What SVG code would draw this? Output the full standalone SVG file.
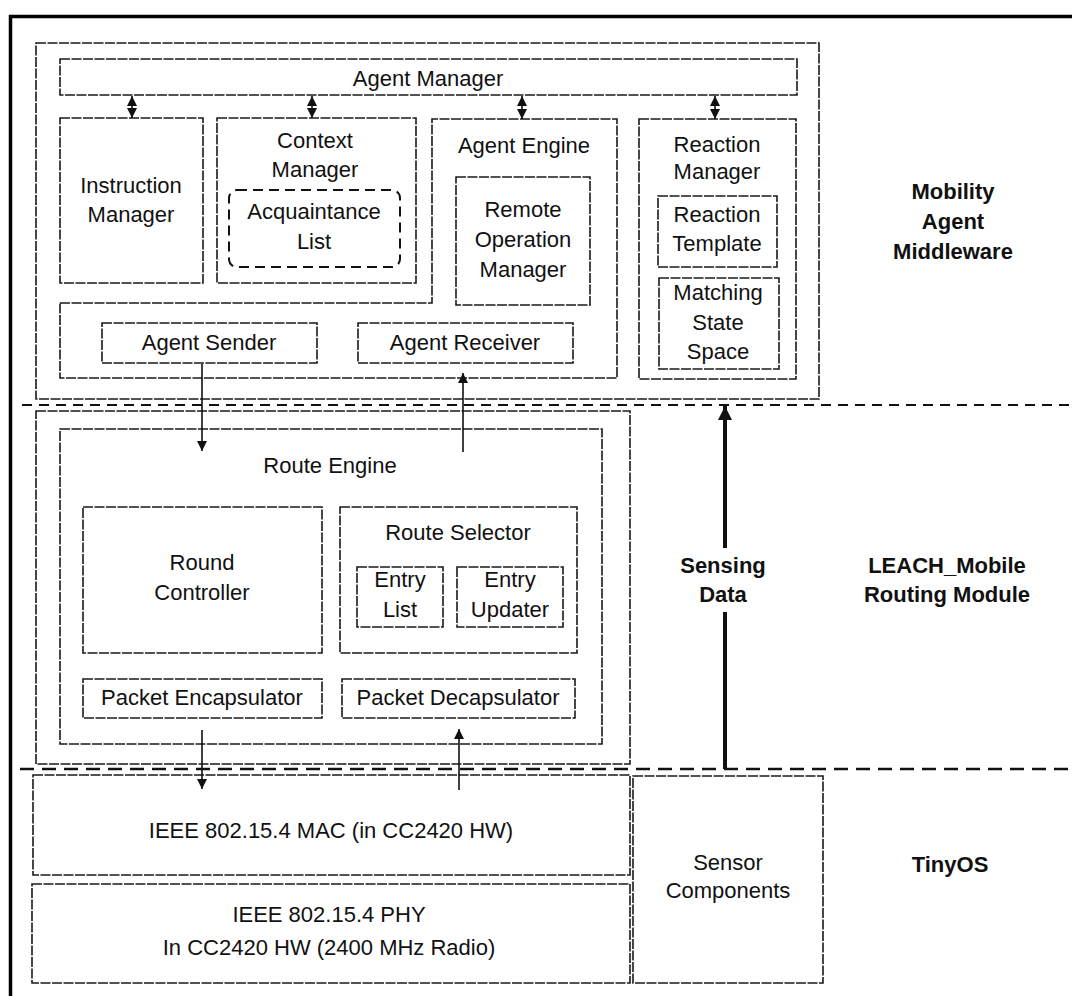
<svg xmlns="http://www.w3.org/2000/svg" width="1072" height="996" viewBox="0 0 1072 996">
<defs>
<style>
.box{fill:none;stroke:#1a1a1a;stroke-width:1.6;stroke-dasharray:10 1.5}
.t{font-family:"Liberation Sans",Arial,sans-serif;font-size:22px;fill:#111;text-anchor:middle}
.b{font-weight:bold}
.arr{stroke:#111;stroke-width:1.6;fill:none}
.dar{stroke:#111;stroke-width:1.6;fill:none;stroke-dasharray:3 2}
.sep{stroke:#111;fill:none}
</style>
<marker id="ah" viewBox="0 0 10 10" refX="10" refY="5" markerWidth="10" markerHeight="10" markerUnits="userSpaceOnUse" orient="auto-start-reverse">
<path d="M0,0 L10,5 L0,10 z" fill="#111"/>
</marker>
<marker id="ahb" viewBox="0 0 10 10" refX="10" refY="5" markerWidth="17" markerHeight="14" markerUnits="userSpaceOnUse" orient="auto-start-reverse">
<path d="M0,0 L10,5 L0,10 z" fill="#111"/>
</marker>
</defs>
<rect width="1072" height="996" fill="#fff"/>

<g id="frame">
<path d="M10.5,996 L10.5,16.5 L1072,16.5" fill="none" stroke="#000" stroke-width="3.5"/>
</g>

<g id="separators">
<line class="sep" x1="22" y1="405" x2="1072" y2="405" stroke-width="2" stroke-dasharray="10 7"/>
<line class="sep" x1="20" y1="769" x2="1072" y2="769" stroke-width="2.5" stroke-dasharray="14 8"/>
</g>

<g id="middleware">
<rect class="box" x="36" y="43" width="783" height="356"/>
</g>

<g id="agent-manager">
<rect class="box" x="60" y="59" width="737" height="36"/>
<text class="t" x="428" y="86">Agent Manager</text>
</g>

<g id="instruction-manager">
<rect class="box" x="60" y="118" width="143" height="165"/>
<text class="t" x="131" y="193">Instruction</text>
<text class="t" x="131" y="222">Manager</text>
</g>

<g id="context-manager">
<rect class="box" x="217" y="118" width="199" height="165"/>
<text class="t" x="315" y="148">Context</text>
<text class="t" x="315" y="177">Manager</text>
</g>

<g id="acquaintance-list">
<rect x="229" y="190" width="171" height="77" rx="8" fill="none" stroke="#111" stroke-width="2" stroke-dasharray="10 6"/>
<text class="t" x="314" y="219">Acquaintance</text>
<text class="t" x="314" y="249">List</text>
</g>

<g id="agent-engine">
<path class="box" d="M60,303 L432,303 L432,119 L617,119 L617,378 L60,378 Z"/>
<text class="t" x="524" y="153">Agent Engine</text>
</g>

<g id="remote-operation-manager">
<rect class="box" x="456" y="177" width="134" height="128"/>
<text class="t" x="523" y="217">Remote</text>
<text class="t" x="523" y="247">Operation</text>
<text class="t" x="523" y="277">Manager</text>
</g>

<g id="reaction-manager">
<rect class="box" x="639" y="119" width="157" height="260"/>
<text class="t" x="717" y="152">Reaction</text>
<text class="t" x="717" y="179">Manager</text>
</g>

<g id="reaction-template">
<rect class="box" x="658" y="196" width="119" height="71"/>
<text class="t" x="717" y="222">Reaction</text>
<text class="t" x="717" y="251">Template</text>
</g>

<g id="matching-state-space">
<rect class="box" x="659" y="278" width="120" height="91"/>
<text class="t" x="718" y="300">Matching</text>
<text class="t" x="718" y="330">State</text>
<text class="t" x="718" y="359">Space</text>
</g>

<g id="agent-sender">
<rect class="box" x="102" y="323" width="215" height="40"/>
<text class="t" x="209" y="350">Agent Sender</text>
</g>

<g id="agent-receiver">
<rect class="box" x="358" y="323" width="215" height="40"/>
<text class="t" x="465" y="350">Agent Receiver</text>
</g>

<g id="routing-module">
<rect class="box" x="36" y="411" width="594" height="353"/>
</g>

<g id="route-engine">
<rect class="box" x="60" y="429" width="542" height="315"/>
<text class="t" x="330" y="473">Route Engine</text>
</g>

<g id="round-controller">
<rect class="box" x="83" y="507" width="239" height="146"/>
<text class="t" x="202" y="570">Round</text>
<text class="t" x="202" y="600">Controller</text>
</g>

<g id="route-selector">
<rect class="box" x="340" y="507" width="237" height="146"/>
<text class="t" x="458" y="540">Route Selector</text>
</g>

<g id="entry-list">
<rect class="box" x="357" y="567" width="86" height="60"/>
<text class="t" x="400" y="587">Entry</text>
<text class="t" x="400" y="617">List</text>
</g>

<g id="entry-updater">
<rect class="box" x="457" y="567" width="106" height="60"/>
<text class="t" x="510" y="587">Entry</text>
<text class="t" x="510" y="617">Updater</text>
</g>

<g id="packet-encapsulator">
<rect class="box" x="83" y="679" width="239" height="39"/>
<text class="t" x="202" y="705">Packet Encapsulator</text>
</g>

<g id="packet-decapsulator">
<rect class="box" x="342" y="679" width="233" height="39"/>
<text class="t" x="458" y="705">Packet Decapsulator</text>
</g>

<g id="mac">
<rect class="box" x="33" y="775" width="597" height="100"/>
<text class="t" x="331" y="838">IEEE 802.15.4 MAC (in CC2420 HW)</text>
</g>

<g id="phy">
<rect class="box" x="32" y="884" width="598" height="99"/>
<text class="t" x="329" y="922">IEEE 802.15.4 PHY</text>
<text class="t" x="329" y="955">In CC2420 HW (2400 MHz Radio)</text>
</g>

<g id="sensor-components">
<rect class="box" x="633" y="776" width="190" height="207"/>
<text class="t" x="728" y="870">Sensor</text>
<text class="t" x="728" y="898">Components</text>
</g>

<g id="labels">
<text class="t b" x="953" y="199">Mobility</text>
<text class="t b" x="953" y="229">Agent</text>
<text class="t b" x="953" y="259">Middleware</text>
<text class="t b" x="947" y="573">LEACH_Mobile</text>
<text class="t b" x="947" y="602">Routing Module</text>
<text class="t b" x="950" y="872">TinyOS</text>
<text class="t b" x="723" y="573">Sensing</text>
<text class="t b" x="723" y="602">Data</text>
</g>

<g id="connectors">
<line class="dar" x1="132" y1="96" x2="132" y2="118" marker-start="url(#ah)" marker-end="url(#ah)"/>
<line class="dar" x1="312" y1="96" x2="312" y2="118" marker-start="url(#ah)" marker-end="url(#ah)"/>
<line class="arr" x1="522" y1="96" x2="522" y2="119" marker-start="url(#ah)" marker-end="url(#ah)"/>
<line class="dar" x1="715" y1="96" x2="715" y2="119" marker-start="url(#ah)" marker-end="url(#ah)"/>
<line class="arr" x1="202" y1="364" x2="202" y2="451" marker-end="url(#ah)"/>
<line class="arr" x1="463" y1="452" x2="463" y2="373" marker-end="url(#ah)"/>
<line class="arr" x1="202" y1="730" x2="202" y2="789" marker-end="url(#ah)"/>
<line class="arr" x1="459" y1="790" x2="459" y2="729" marker-end="url(#ah)"/>
<line x1="725" y1="548" x2="725" y2="406" stroke="#111" stroke-width="4" marker-end="url(#ahb)"/>
<line x1="725" y1="612" x2="725" y2="769" stroke="#111" stroke-width="4"/>
</g>
</svg>
